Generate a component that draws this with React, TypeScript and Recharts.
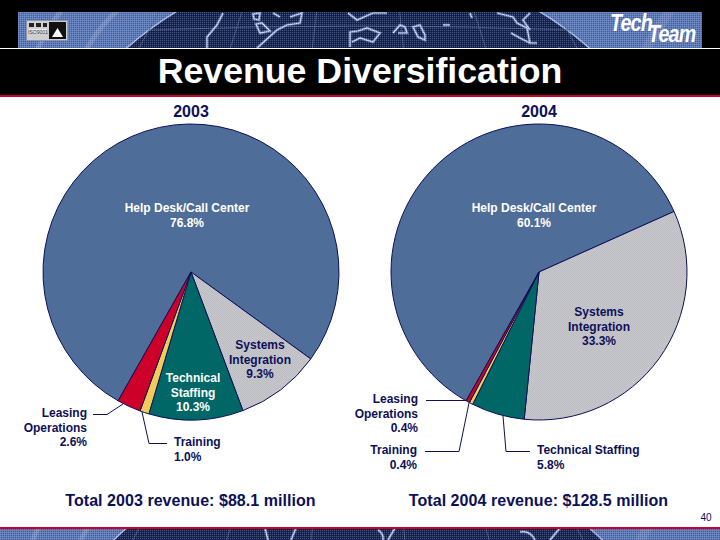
import { PieChart, Pie, Cell } from "recharts";

// -------------------------
// DATA
// -------------------------
const SEGMENTS = ["Help Desk/Call Center", "Systems Integration", "Technical Staffing", "Training", "Leasing Operations"];
const SHARE_2003 = [76.8, 9.3, 10.3, 1.0, 2.6];
const SHARE_2004 = [60.1, 33.3, 5.8, 0.4, 0.4];
const YEARS = ["2003", "2004"];
const TOTALS = ["Total 2003 revenue: $88.1 million", "Total 2004 revenue: $128.5 million"];

const rows2003 = SEGMENTS.map((name, i) => ({ name, value: SHARE_2003[i] }));
const rows2004 = SEGMENTS.map((name, i) => ({ name, value: SHARE_2004[i] }));

// -------------------------
// THEME
// -------------------------
const NAVY = "#0c1058";
const RED = "#cc0029";
const FILLS = ["#4f6d99", "url(#dither)", "#006666", "#f0cc58", "#cc0029"];
const FONT = "'Liberation Sans', Arial, sans-serif";

// slice callouts: [x, y, anchor, colour, lines]
const CALLOUTS: [number, number, string, string, string[]][] = [
  [187, 212, "middle", "#ffffff", ["Help Desk/Call Center", "76.8%"]],
  [260, 349, "middle", NAVY, ["Systems", "Integration", "9.3%"]],
  [193, 382, "middle", "#ffffff", ["Technical", "Staffing", "10.3%"]],
  [87, 417, "end", NAVY, ["Leasing", "Operations", "2.6%"]],
  [174, 446, "start", NAVY, ["Training", "1.0%"]],
  [534, 212, "middle", "#ffffff", ["Help Desk/Call Center", "60.1%"]],
  [599, 316, "middle", NAVY, ["Systems", "Integration", "33.3%"]],
  [418, 403, "end", NAVY, ["Leasing", "Operations", "0.4%"]],
  [417, 454, "end", NAVY, ["Training", "0.4%"]],
  [537, 454, "start", NAVY, ["Technical Staffing", "5.8%"]],
];

const LEADERS = [
  "93,414.5 107,414.5 123,404",
  "142,412 149,443.5 167,443.5",
  "426,400.5 466,400.5",
  "469,403 459,451.5 425,451.5",
  "503,416 506,451.5 530,451.5",
];

// rough world outlines for the header and footer strips
const COASTS = [
  "M223 13 L217 25 L207 37 L207 48",
  "M253 14 L260 13 L259 20 L254 19 Z",
  "M256 24 L262 23 L270 31 L260 33 Z",
  "M257 48 L277 30 L287 25 L300 23 L302 13 L290 17",
  "M273 13 L280 17",
  "M350 47 L350 32 L358 31 L367 28 L380 33 L373 42 L360 38 L352 42",
  "M348 13 L357 20 L373 13 L387 13",
  "M393 33 L400 25 L405 27 L407 33 L398 33",
  "M413 27 L420 25 L425 35 L425 40 L418 37 Z",
  "M443 25 L450 25",
  "M470 13 L472 18",
  "M497 13 L513 17 L517 23 L527 28 L530 43 L537 43",
  "M530 13 L523 20 L530 30",
  "M511 33 L520 38 L530 43",
  "M265 48 L268 60",
  "M296 48 L291 60",
  "M378 50 Q384 54 383 60 M395 48 L388 60",
  "M520 52 Q530 50 535 60 M560 48 L550 60",
];

function Banner({ y, height, viewY }: { y: number; height: number; viewY: number }) {
  return (
    <svg
      style={{ position: "absolute", left: 0, top: y }}
      width={720}
      height={height}
      viewBox={`0 ${viewY} 720 ${height}`}
    >
      <defs>
        <pattern id="grain" width={2} height={2} patternUnits="userSpaceOnUse">
          <rect width={1} height={1} fill="#9aa8d8" opacity={0.35} />
          <rect x={1} y={1} width={1} height={1} fill="#000020" opacity={0.25} />
        </pattern>
      </defs>
      <rect x={0} y={viewY} width={720} height={height} fill="#5f7db8" />
      <path d="M32 62 Q45 30 62 10 M80 62 Q95 30 118 10" stroke="#8c9ccc" strokeWidth={5} fill="none" opacity={0.7} />
      <path d="M640 62 Q650 40 670 10" stroke="#8c9ccc" strokeWidth={10} fill="none" opacity={0.4} />
      <circle cx={358} cy={312} r={351} fill="#17264f" stroke="#b4c6ea" strokeWidth={1.5} />
      {[-120, -70, -25, 25, 70, 120].map((dx) => (
        <path
          key={dx}
          d={`M${358 + dx * 1.6} 0 Q${358 + dx * 1.8} 40 ${358 + dx * 2} 90`}
          stroke="#56688f"
          strokeWidth={0.8}
          fill="none"
        />
      ))}
      <path d="M150 30 Q358 22 570 30" stroke="#56688f" strokeWidth={0.8} fill="none" />
      {COASTS.map((d) => (
        <path key={d} d={d} stroke="#7f97d0" strokeWidth={3} fill="none" opacity={0.6} />
      ))}
      {COASTS.map((d) => (
        <path key={d} d={d} stroke="#dbe6fa" strokeWidth={1.2} fill="none" />
      ))}
      <rect x={0} y={viewY} width={720} height={height} fill="url(#grain)" />
    </svg>
  );
}

export default function App() {
  return (
    <div style={{ position: "absolute", left: 0, top: 0, width: 720, height: 540, background: "#ffffff", overflow: "hidden", fontFamily: FONT }}>
      {/* HEADER */}
      <div style={{ position: "absolute", left: 0, top: 0, width: 720, height: 95, background: "#000000" }} />
      <div style={{ position: "absolute", left: 18, top: 12, width: 684, height: 36, overflow: "hidden" }}>
        <div style={{ position: "absolute", left: -18, top: -12 }}>
          <Banner y={12} height={36} viewY={12} />
        </div>
      </div>
      <div style={{ position: "absolute", left: 0, top: 48, width: 720, height: 1, background: "#ffffff" }} />
      <div style={{ position: "absolute", left: 0, top: 95, width: 720, height: 2, background: RED }} />

      {/* ISO badge */}
      <svg style={{ position: "absolute", left: 26, top: 20 }} width={42} height={21}>
        <rect x={0.5} y={0.5} width={41} height={20} fill="#cfcfcf" stroke="#8f96b0" />
        <rect x={3} y={3} width={5} height={4} fill="#222222" />
        <rect x={10} y={3} width={5} height={4} fill="#222222" />
        <rect x={17} y={3} width={4} height={4} fill="#222222" />
        <rect x={3} y={9} width={18} height={5} fill="#eeeeee" />
        <text x={12} y={13.5} textAnchor="middle" fontSize={5} fill="#222222">ISO9001</text>
        <rect x={23} y={2} width={17} height={17} fill="#111111" />
        <path d="M31.5 8 L37 17 L26 17 Z" fill="#ffffff" />
      </svg>

      {/* logo */}
      <div style={{ position: "absolute", left: 610, top: 11, fontSize: 24, fontWeight: 700, fontStyle: "italic", color: "#ffffff", letterSpacing: -1, lineHeight: "24px", transform: "scaleX(0.82)", transformOrigin: "left top" }}>Tech</div>
      <div style={{ position: "absolute", left: 648, top: 22, fontSize: 24, fontWeight: 700, fontStyle: "italic", color: "#ffffff", letterSpacing: -1, lineHeight: "24px", transform: "scaleX(0.82)", transformOrigin: "left top" }}>Team</div>

      <div style={{ position: "absolute", left: 0, top: 49, width: 720, textAlign: "center", fontSize: 35.7, lineHeight: "44px", fontWeight: 700, color: "#ffffff" }}>
        Revenue Diversification
      </div>

      {/* PIES */}
      <div style={{ position: "absolute", left: 0, top: 0 }}>
        <PieChart width={720} height={540} margin={{ top: 0, right: 0, bottom: 0, left: 0 }}>
          <defs>
            <pattern id="dither" width={2} height={2} patternUnits="userSpaceOnUse">
              <rect width={2} height={2} fill="#c8c8c8" />
              <rect width={1} height={1} fill="#bcbcc6" />
              <rect x={1} y={1} width={1} height={1} fill="#bcbcc6" />
            </pattern>
          </defs>
          <Pie
            data={rows2003}
            dataKey="value"
            nameKey="name"
            cx={191}
            cy={272}
            innerRadius={0}
            outerRadius={148}
            startAngle={-119.5}
            endAngle={-479.5}
            stroke={NAVY}
            strokeWidth={1}
            label={false}
            labelLine={false}
            isAnimationActive={false}
          >
            {rows2003.map((row, i) => (
              <Cell key={row.name} fill={FILLS[i]} />
            ))}
          </Pie>
          <Pie
            data={rows2004}
            dataKey="value"
            nameKey="name"
            cx={539}
            cy={272}
            innerRadius={0}
            outerRadius={148}
            startAngle={-119.5}
            endAngle={-479.5}
            stroke={NAVY}
            strokeWidth={1}
            label={false}
            labelLine={false}
            isAnimationActive={false}
          >
            {rows2004.map((row, i) => (
              <Cell key={row.name} fill={FILLS[i]} />
            ))}
          </Pie>
        </PieChart>
      </div>

      {/* LABELS */}
      <svg style={{ position: "absolute", left: 0, top: 0 }} width={720} height={540} fontFamily={FONT}>
        {YEARS.map((year, i) => (
          <text key={year} x={i === 0 ? 191 : 539} y={117} textAnchor="middle" fontSize={16} fontWeight={700} fill={NAVY}>
            {year}
          </text>
        ))}
        {LEADERS.map((points) => (
          <polyline key={points} points={points} fill="none" stroke={NAVY} strokeWidth={1} />
        ))}
        {CALLOUTS.map(([x, y, anchor, color, lines]) =>
          lines.map((line, j) => (
            <text key={`${x}-${line}`} x={x} y={y + j * 14.5} textAnchor={anchor as any} fontSize={12} fontWeight={700} fill={color}>
              {line}
            </text>
          ))
        )}
        {TOTALS.map((total, i) => (
          <text key={total} x={i === 0 ? 190.5 : 538.5} y={506} textAnchor="middle" fontSize={16} fontWeight={700} letterSpacing={0.05} fill={NAVY}>
            {total}
          </text>
        ))}
        <text x={706} y={521} textAnchor="middle" fontSize={10} fill={NAVY}>40</text>
      </svg>

      {/* FOOTER */}
      <div style={{ position: "absolute", left: 0, top: 527, width: 720, height: 2, background: RED }} />
      <Banner y={529} height={11} viewY={49} />
    </div>
  );
}
